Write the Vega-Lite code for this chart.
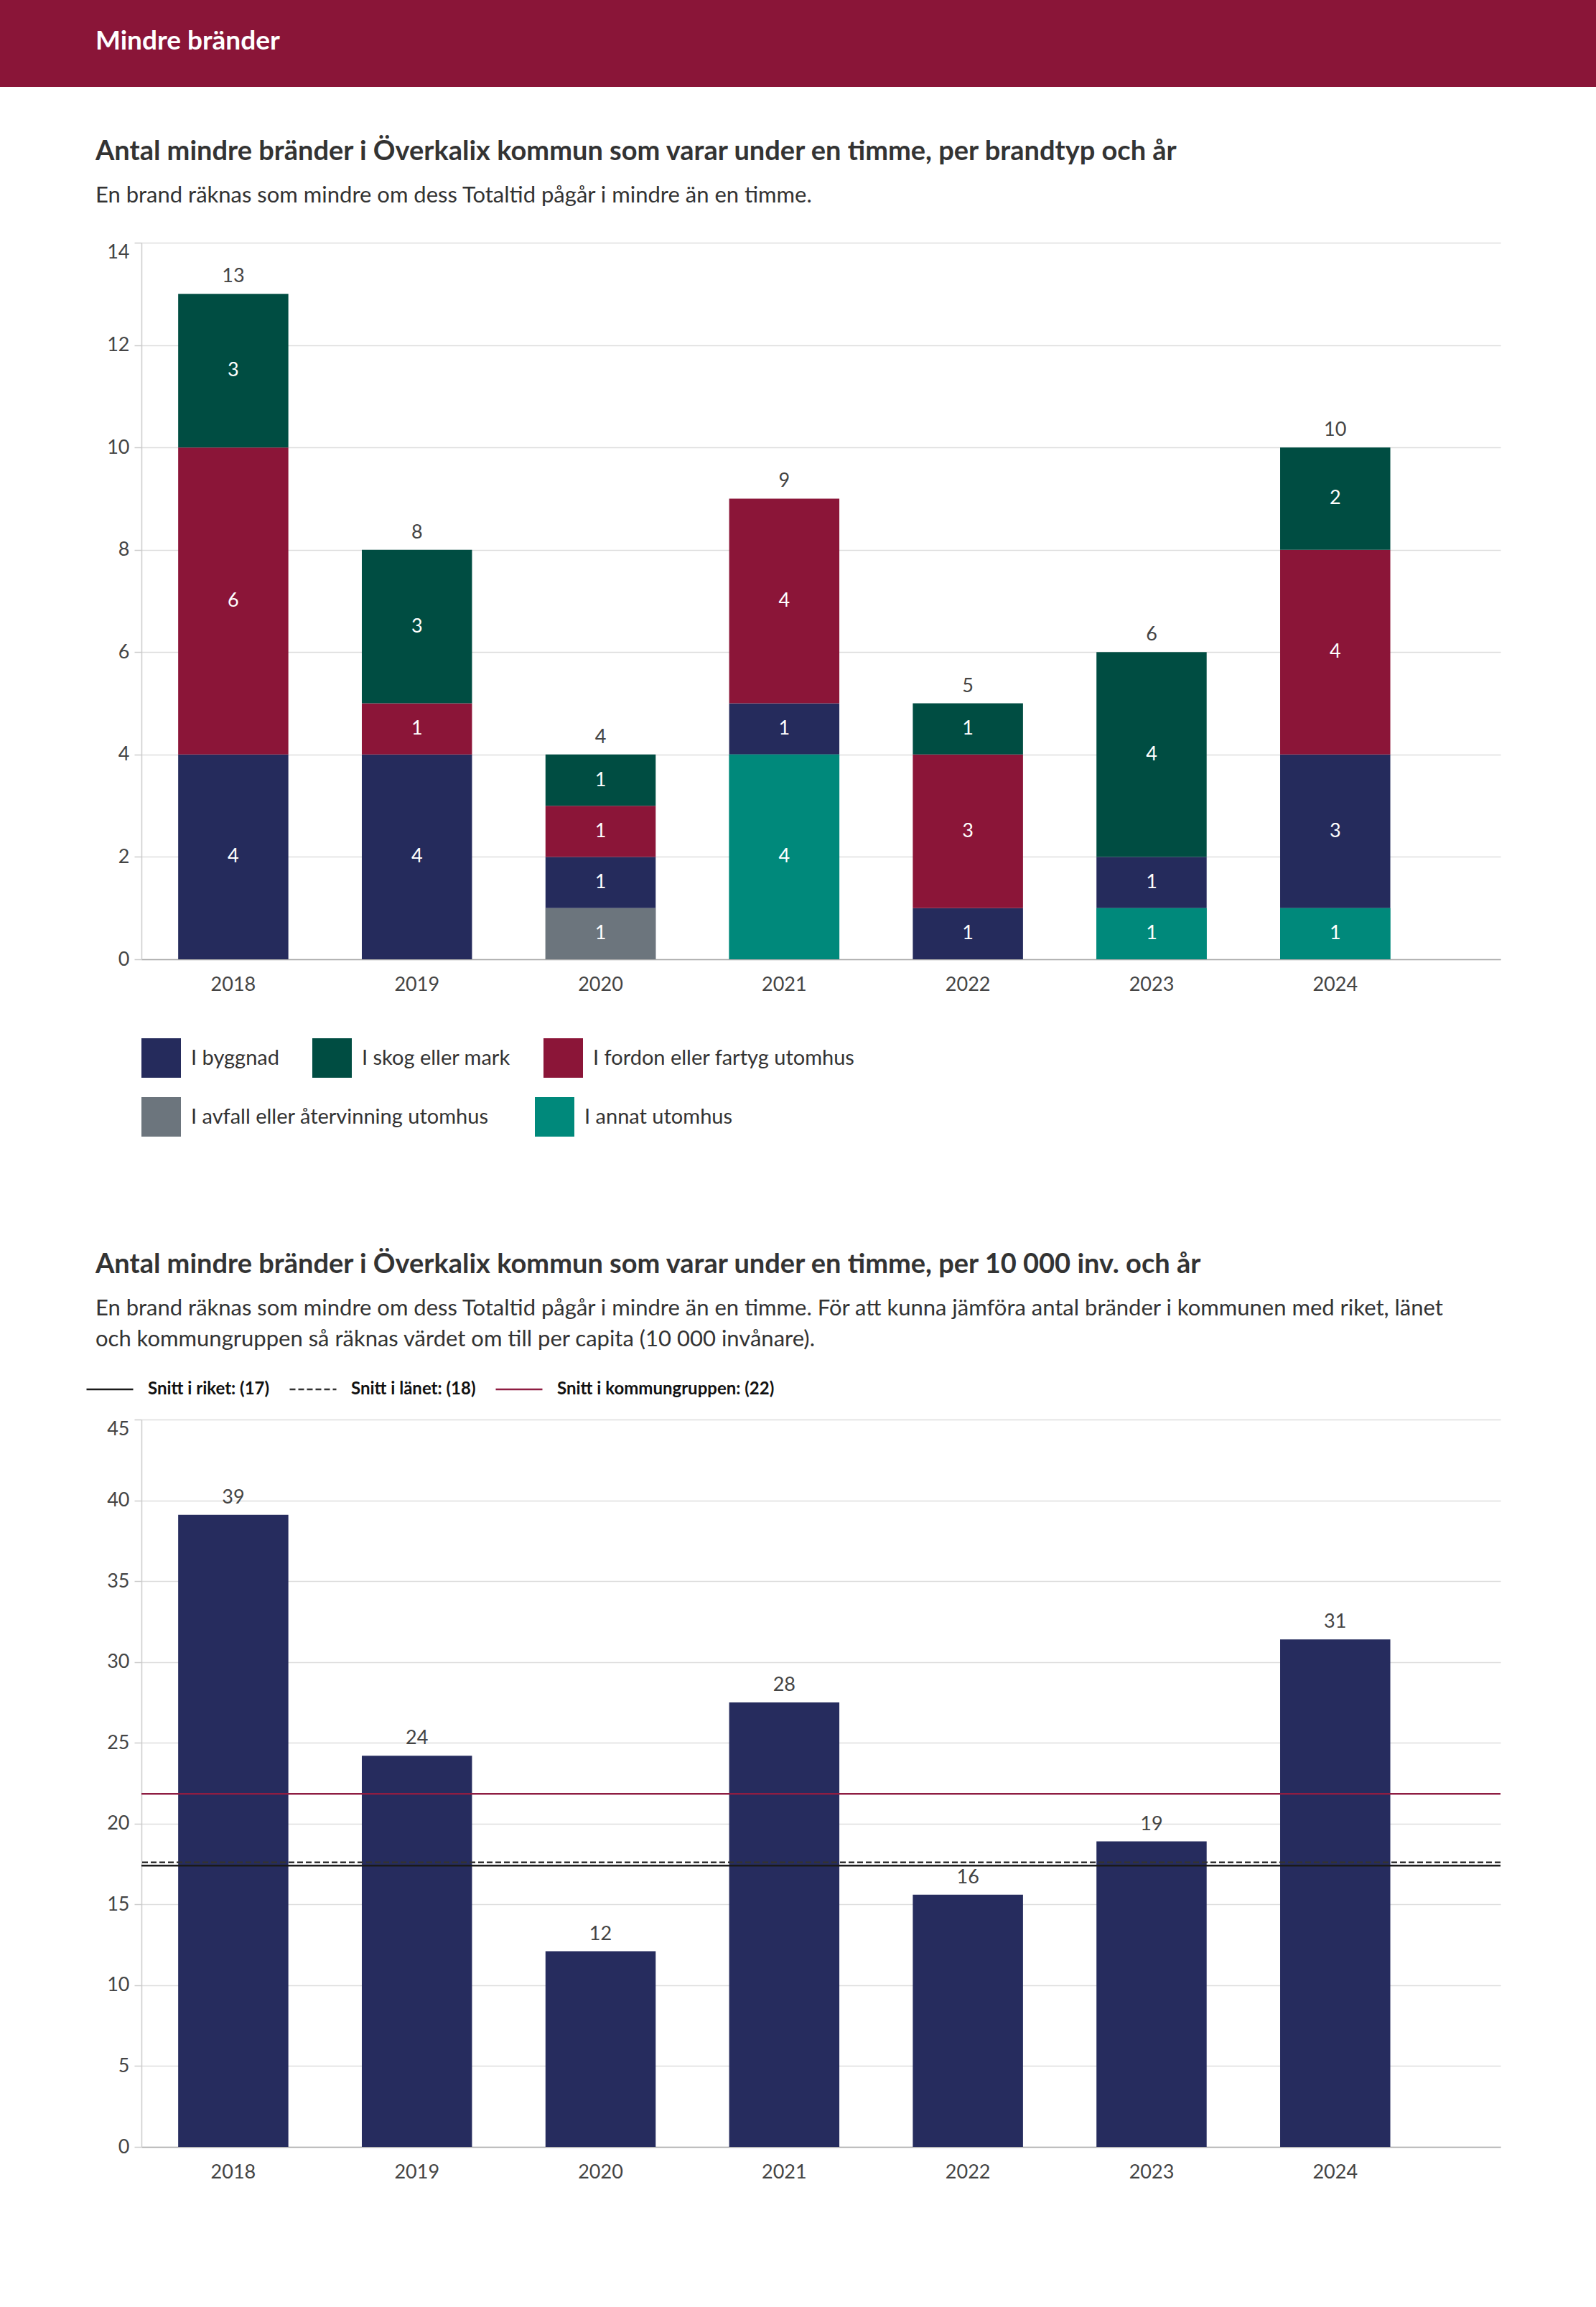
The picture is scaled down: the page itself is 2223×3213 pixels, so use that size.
{
  "$schema": "https://vega.github.io/schema/vega-lite/v6.json",
  "padding": 0,
  "background": "white",
  "spacing": 72,
  "columns": 1,
  "align": "none",
  "resolve": {"scale": {"color": "independent", "strokeDash": "independent", "fill": "independent"}, "legend": {"color": "independent", "strokeDash": "independent", "fill": "independent"}},
  "config": {
    "font": "Lato",
    "view": {"stroke": null},
    "axis": {"labelFont": "Lato", "labelColor": "#444", "labelFontSize": 27, "titleFont": "Lato"},
    "axisY": {"domainColor": "#cccccc", "domainWidth": 1.5, "tickColor": "#cccccc", "tickSize": 10, "tickWidth": 1.5, "labelPadding": 7, "gridColor": "#dddddd", "gridWidth": 1.5, "minExtent": 197, "maxExtent": 197},
    "axisX": {"domainColor": "#aaaaaa", "domainWidth": 1.5, "ticks": false, "grid": false, "labelPadding": 22, "labelAngle": 0},
    "legend": {"labelFont": "Lato"},
    "title": {"font": "Lato"}
  },
  "datasets": {
    "header": [{"rubrik": "Mindre bränder"}],
    "brand": [
      {"year": "2018", "typ": "I byggnad", "n": 4, "ord": 2},
      {"year": "2018", "typ": "I fordon eller fartyg utomhus", "n": 6, "ord": 3},
      {"year": "2018", "typ": "I skog eller mark", "n": 3, "ord": 4},
      {"year": "2019", "typ": "I byggnad", "n": 4, "ord": 2},
      {"year": "2019", "typ": "I fordon eller fartyg utomhus", "n": 1, "ord": 3},
      {"year": "2019", "typ": "I skog eller mark", "n": 3, "ord": 4},
      {"year": "2020", "typ": "I avfall eller återvinning utomhus", "n": 1, "ord": 0},
      {"year": "2020", "typ": "I byggnad", "n": 1, "ord": 2},
      {"year": "2020", "typ": "I fordon eller fartyg utomhus", "n": 1, "ord": 3},
      {"year": "2020", "typ": "I skog eller mark", "n": 1, "ord": 4},
      {"year": "2021", "typ": "I annat utomhus", "n": 4, "ord": 1},
      {"year": "2021", "typ": "I byggnad", "n": 1, "ord": 2},
      {"year": "2021", "typ": "I fordon eller fartyg utomhus", "n": 4, "ord": 3},
      {"year": "2022", "typ": "I byggnad", "n": 1, "ord": 2},
      {"year": "2022", "typ": "I fordon eller fartyg utomhus", "n": 3, "ord": 3},
      {"year": "2022", "typ": "I skog eller mark", "n": 1, "ord": 4},
      {"year": "2023", "typ": "I annat utomhus", "n": 1, "ord": 1},
      {"year": "2023", "typ": "I byggnad", "n": 1, "ord": 2},
      {"year": "2023", "typ": "I skog eller mark", "n": 4, "ord": 4},
      {"year": "2024", "typ": "I annat utomhus", "n": 1, "ord": 1},
      {"year": "2024", "typ": "I byggnad", "n": 3, "ord": 2},
      {"year": "2024", "typ": "I fordon eller fartyg utomhus", "n": 4, "ord": 3},
      {"year": "2024", "typ": "I skog eller mark", "n": 2, "ord": 4}
    ],
    "percap": [
      {"year": "2018", "varde": 39.1},
      {"year": "2019", "varde": 24.2},
      {"year": "2020", "varde": 12.1},
      {"year": "2021", "varde": 27.5},
      {"year": "2022", "varde": 15.6},
      {"year": "2023", "varde": 18.9},
      {"year": "2024", "varde": 31.4}
    ],
    "snitt": [
      {"serie": "Snitt i riket: (17)", "varde": 17.4},
      {"serie": "Snitt i länet: (18)", "varde": 17.6},
      {"serie": "Snitt i kommungruppen: (22)", "varde": 21.85}
    ]
  },
  "concat": [
    {
      "data": {"name": "header"},
      "width": 2026,
      "height": 121,
      "title": {"text": "Mindre bränder", "anchor": "start", "frame": "group", "dx": -64, "offset": -77, "color": "white", "fontSize": 37, "fontWeight": "bold", "zindex": 2},
      "mark": {"type": "rect", "color": "#8a1538"},
      "encoding": {
        "y": {"field": "rubrik", "type": "nominal", "title": null,
              "scale": {"paddingInner": 0, "paddingOuter": 0},
              "axis": {"labels": false, "ticks": false, "grid": false, "translate": 0, "domainColor": "#8a1538", "domainWidth": 398, "minExtent": 197, "maxExtent": 197, "zindex": 0}}
      }
    },
    {
      "spacing": 160,
      "resolve": {"scale": {"color": "independent", "strokeDash": "independent", "fill": "independent"}, "legend": {"color": "independent", "strokeDash": "independent", "fill": "independent"}},
      "vconcat": [
        {
          "width": 1893,
          "height": 998,
          "data": {"name": "brand"},
          "title": {
            "text": "Antal mindre bränder i Överkalix kommun som varar under en timme, per brandtyp och år",
            "subtitle": "En brand räknas som mindre om dess Totaltid pågår i mindre än en timme.",
            "anchor": "start", "frame": "bounds", "dx": 133,
            "fontSize": 38, "fontWeight": "bold", "color": "#333333",
            "subtitleFontSize": 31, "subtitleColor": "#333333", "subtitlePadding": 27, "offset": 49
          },
          "encoding": {
            "x": {"field": "year", "type": "nominal", "title": null,
                  "scale": {"paddingInner": 0.4, "paddingOuter": 0.4, "align": 0.25}}
          },
          "layer": [
            {
              "mark": {"type": "bar"},
              "encoding": {
                "y": {"field": "n", "type": "quantitative", "stack": "zero", "title": null,
                      "scale": {"domain": [0, 14], "nice": false},
                      "axis": {"values": [0, 2, 4, 6, 8, 10, 12, 14], "format": "d",
                               "labelBaseline": {"condition": {"test": "datum.value == 14", "value": "top"}, "value": "middle"}}},
                "color": {"field": "typ", "type": "nominal",
                          "scale": {"domain": ["I byggnad", "I skog eller mark", "I fordon eller fartyg utomhus", "I avfall eller återvinning utomhus", "I annat utomhus"],
                                    "range": ["#252b5c", "#004d42", "#8b1538", "#6c757d", "#00897b"]},
                          "legend": {"title": null, "orient": "none", "legendX": 0, "legendY": 1108, "direction": "horizontal",
                                     "values": ["I byggnad", "I skog eller mark", "I fordon eller fartyg utomhus"],
                                     "symbolType": "square", "symbolSize": 3025, "symbolStrokeWidth": 0, "labelFontSize": 29,
                                     "labelColor": "#333333", "labelOffset": 14, "columnPadding": 46, "labelLimit": 800}},
                "order": {"field": "ord", "type": "quantitative"}
              }
            },
            {
              "transform": [{"filter": "datum.ord < 2"}],
              "mark": {"type": "bar"},
              "encoding": {
                "y": {"field": "n", "type": "quantitative", "stack": "zero", "title": null},
                "fill": {"field": "typ", "type": "nominal",
                         "scale": {"domain": ["I avfall eller återvinning utomhus", "I annat utomhus"], "range": ["#6c757d", "#00897b"]},
                         "legend": {"title": null, "orient": "none", "legendX": 0, "legendY": 1190, "direction": "horizontal",
                                    "symbolType": "square", "symbolSize": 3025, "symbolStrokeWidth": 0, "symbolOpacity": 1, "labelFontSize": 29,
                                    "labelColor": "#333333", "labelOffset": 14, "columnPadding": 64, "labelLimit": 800}},
                "order": {"field": "ord", "type": "quantitative"}
              }
            },
            {
              "mark": {"type": "text", "color": "white", "fontSize": 27},
              "encoding": {
                "y": {"field": "n", "type": "quantitative", "stack": "zero", "bandPosition": 0.5, "title": null},
                "detail": {"field": "typ", "type": "nominal"},
                "order": {"field": "ord", "type": "quantitative"},
                "text": {"field": "n", "type": "quantitative"}
              }
            },
            {
              "mark": {"type": "text", "color": "#444444", "fontSize": 27, "dy": -24},
              "encoding": {
                "y": {"aggregate": "sum", "field": "n", "type": "quantitative", "title": null},
                "text": {"aggregate": "sum", "field": "n", "type": "quantitative"}
              }
            }
          ]
        },
        {
          "width": 1893,
          "height": 1013,
          "title": {
            "text": "Antal mindre bränder i Överkalix kommun som varar under en timme, per 10 000 inv. och år",
            "subtitle": ["En brand räknas som mindre om dess Totaltid pågår i mindre än en timme. För att kunna jämföra antal bränder i kommunen med riket, länet", "och kommungruppen så räknas värdet om till per capita (10 000 invånare)."],
            "anchor": "start", "frame": "bounds", "dx": 133,
            "fontSize": 38, "fontWeight": "bold", "color": "#333333",
            "subtitleFontSize": 31, "subtitleColor": "#333333", "subtitlePadding": 27, "subtitleLineHeight": 43, "offset": 20
          },
          "layer": [
            {
              "data": {"name": "percap"},
              "mark": {"type": "bar", "color": "#262c5e"},
              "encoding": {
                "x": {"field": "year", "type": "nominal", "title": null,
                      "scale": {"paddingInner": 0.4, "paddingOuter": 0.4, "align": 0.25}},
                "y": {"field": "varde", "type": "quantitative", "title": null,
                      "scale": {"domain": [0, 45], "nice": false},
                      "axis": {"values": [0, 5, 10, 15, 20, 25, 30, 35, 40, 45], "format": "d",
                               "labelBaseline": {"condition": {"test": "datum.value == 45", "value": "top"}, "value": "middle"}}}
              }
            },
            {
              "data": {"name": "percap"},
              "mark": {"type": "text", "color": "#444444", "fontSize": 27, "dy": -24},
              "encoding": {
                "x": {"field": "year", "type": "nominal", "title": null},
                "y": {"field": "varde", "type": "quantitative", "title": null},
                "text": {"field": "varde", "type": "quantitative", "format": ".0f"}
              }
            },
            {
              "data": {"name": "snitt"},
              "mark": {"type": "rule", "strokeWidth": 2.5},
              "encoding": {
                "y": {"field": "varde", "type": "quantitative", "title": null},
                "color": {"field": "serie", "type": "nominal",
                          "scale": {"domain": ["Snitt i riket: (17)", "Snitt i länet: (18)", "Snitt i kommungruppen: (22)"], "range": ["#1a1a1a", "#333333", "#8e1d42"]},
                          "legend": {"title": null, "orient": "none", "legendX": -78, "legendY": -76, "direction": "horizontal",
                                     "symbolType": "stroke", "symbolSize": 4225, "symbolStrokeWidth": 2.5, "labelFontSize": 24, "labelFontWeight": "bold",
                                     "labelColor": "#111111", "labelOffset": 19, "columnPadding": 22, "labelLimit": 600}},
                "strokeDash": {"field": "serie", "type": "nominal",
                               "scale": {"domain": ["Snitt i riket: (17)", "Snitt i länet: (18)", "Snitt i kommungruppen: (22)"], "range": [[1, 0], [8, 4], [1, 0]]},
                               "legend": {"title": null, "orient": "none", "legendX": -78, "legendY": -76, "direction": "horizontal",
                                          "symbolType": "stroke", "symbolSize": 4225, "symbolStrokeWidth": 2.5, "labelFontSize": 24, "labelFontWeight": "bold",
                                          "labelColor": "#111111", "labelOffset": 19, "columnPadding": 22, "labelLimit": 600}}
              }
            }
          ]
        }
      ]
    }
  ]
}
